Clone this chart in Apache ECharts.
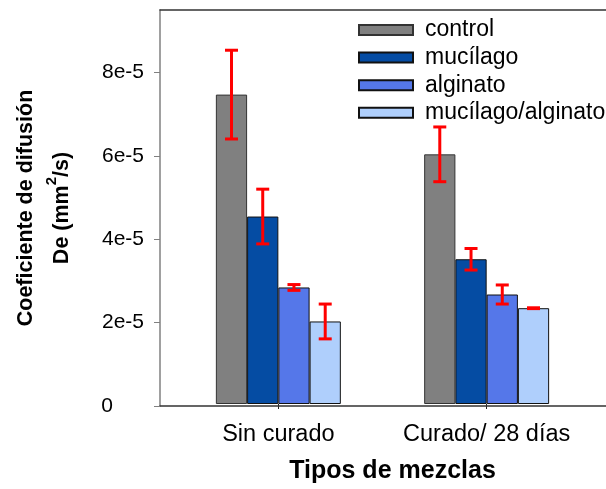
<!DOCTYPE html>
<html>
<head>
<meta charset="utf-8">
<script src="https://cdn.jsdelivr.net/npm/echarts@6/dist/echarts.min.js"></script>
<style>html,body{margin:0;padding:0;background:#fff;}#c{width:606px;height:489px;}</style>
</head>
<body>
<div id="c"></div>
<script>
const categories = ['Sin curado', 'Curado/ 28 días'];
const seriesNames = ['control', 'mucílago', 'alginato', 'mucílago/alginato'];
const control = [7.46e-5, 6.02e-5];
const mucilago = [4.52e-5, 3.49e-5];
const alginato = [2.81e-5, 2.64e-5];
const mucAlg = [1.99e-5, 2.31e-5];
const controlErr = [1.07e-5, 0.66e-5];
const mucilagoErr = [0.66e-5, 0.26e-5];
const alginatoErr = [0.07e-5, 0.23e-5];
const mucAlgErr = [0.42e-5, 0.01e-5];
const yTickLabels = ['0', '2e-5', '4e-5', '6e-5', '8e-5'];

const values = [control, mucilago, alginato, mucAlg];
const errors = [controlErr, mucilagoErr, alginatoErr, mucAlgErr];
const colors = ['#808080', '#054ca3', '#5577e9', '#afcffc'];
const CAT_GAP = 0.4;
const FONT = 'Liberation Sans, Arial, sans-serif';

const chart = echarts.init(document.getElementById('c'), null, {renderer: 'canvas'});

const series = [];
values.forEach((vals, i) => {
  series.push({
    name: seriesNames[i], type: 'bar', xAxisIndex: 0, yAxisIndex: 0,
    data: vals, barGap: '0%', barCategoryGap: (CAT_GAP * 100) + '%',
    itemStyle: {color: colors[i], borderColor: i === 0 ? '#333' : '#111', borderWidth: 1},
    emphasis: {disabled: true}, z: 2
  });
});
values.forEach((vals, i) => {
  series.push({
    name: seriesNames[i] + '_err', type: 'custom', xAxisIndex: 0, yAxisIndex: 0,
    data: vals.map((v, k) => [k, v, errors[i][k]]),
    z: 5, silent: true,
    renderItem: function (params, api) {
      const k = api.value(0), v = api.value(1), e = api.value(2);
      const band = api.size([1, 0])[0];
      const bw = band * (1 - CAT_GAP) / 4;
      const c = api.coord([k, v]);
      const x = c[0] + (i - 1.5) * bw;
      const yTop = api.coord([k, v + e])[1];
      const yBot = api.coord([k, v - e])[1];
      const hw = 6.5;
      const st = {stroke: '#ff0000', lineWidth: 3};
      return {type: 'group', children: [
        {type: 'line', shape: {x1: x, y1: yTop, x2: x, y2: yBot}, style: st},
        {type: 'line', shape: {x1: x - hw, y1: yTop, x2: x + hw, y2: yTop}, style: st},
        {type: 'line', shape: {x1: x - hw, y1: yBot, x2: x + hw, y2: yBot}, style: st}
      ]};
    }
  });
});

const option = {
  animation: false,
  backgroundColor: '#fff',
  textStyle: {fontFamily: FONT},
  legend: {
    data: seriesNames, orient: 'vertical', left: 353, top: 13,
    itemWidth: 54, itemHeight: 10, itemGap: 3.6, icon: 'rect',
    textStyle: {fontSize: 23, color: '#000', lineHeight: 24, padding: [0, 0, 0, 7], fontFamily: FONT},
    selectedMode: false
  },
  grid: [
    {left: 174.2, right: 15.2, top: 10, bottom: 83, containLabel: false},
    {left: 154, right: -2, top: 10, bottom: 83, containLabel: false}
  ],
  xAxis: [
    {gridIndex: 0, type: 'category', data: categories, boundaryGap: true,
     axisLine: {show: false},
     axisTick: {show: true, alignWithLabel: true, interval: 0, length: 5, lineStyle: {color: '#222'}},
     axisLabel: {fontSize: 23.5, color: '#000', margin: 19, interval: 0, hideOverlap: false, fontFamily: FONT},
     name: 'Tipos de mezclas', nameLocation: 'middle', nameGap: 55,
     nameTextStyle: {fontSize: 25, fontWeight: 'bold', color: '#000', padding: [0, 0, 0, 20], fontFamily: FONT}
    },
    {gridIndex: 1, type: 'value', min: 0, max: 1, position: 'bottom', z: 10,
     axisLine: {show: true, lineStyle: {color: '#333', width: 1.5}},
     axisTick: {show: false}, axisLabel: {show: false}, splitLine: {show: false}},
    {gridIndex: 1, type: 'value', min: 0, max: 1, position: 'top', z: 10,
     axisLine: {show: true, onZero: false, lineStyle: {color: '#333', width: 1.5}},
     axisTick: {show: false}, axisLabel: {show: false}, splitLine: {show: false}}
  ],
  yAxis: [
    {gridIndex: 0, type: 'value', min: 0, max: 9.5e-5, interval: 2e-5, show: false, splitLine: {show: false}},
    {gridIndex: 1, type: 'value', min: 0, max: 9.5e-5, interval: 2e-5, z: 10,
     axisLine: {show: true, lineStyle: {color: '#808080', width: 1.5}},
     axisTick: {show: true, inside: false, length: 6, lineStyle: {color: '#808080'}},
     splitLine: {show: false},
     axisLabel: {fontSize: 21, color: '#000', margin: 16, fontFamily: FONT, showMaxLabel: false,
       formatter: function (v) {
         const n = Math.round(v * 1e5 / 2);
         const t = yTickLabels[n] !== undefined ? yTickLabels[n] : '';
         return n === 0 ? '{z|' + t + '}' : t;
       },
       rich: {z: {fontSize: 21, color: '#000', padding: [0, 31, 0, 0], fontFamily: FONT}}
     },
     name: 'Coeficiente de difusión\nDe (mm{sup|2}/s)', nameLocation: 'middle', nameGap: 80,
     nameTextStyle: {fontSize: 21.5, fontWeight: 'bold', color: '#000', lineHeight: 36, align: 'center',
       fontFamily: FONT,
       rich: {sup: {fontSize: 15, fontWeight: 'bold', color: '#000', verticalAlign: 'top', lineHeight: 36, fontFamily: FONT}}}
    }
  ],
  series: series.concat([{type: 'line', xAxisIndex: 1, yAxisIndex: 1, data: [], silent: true}])
};
chart.setOption(option);
</script>
</body>
</html>
